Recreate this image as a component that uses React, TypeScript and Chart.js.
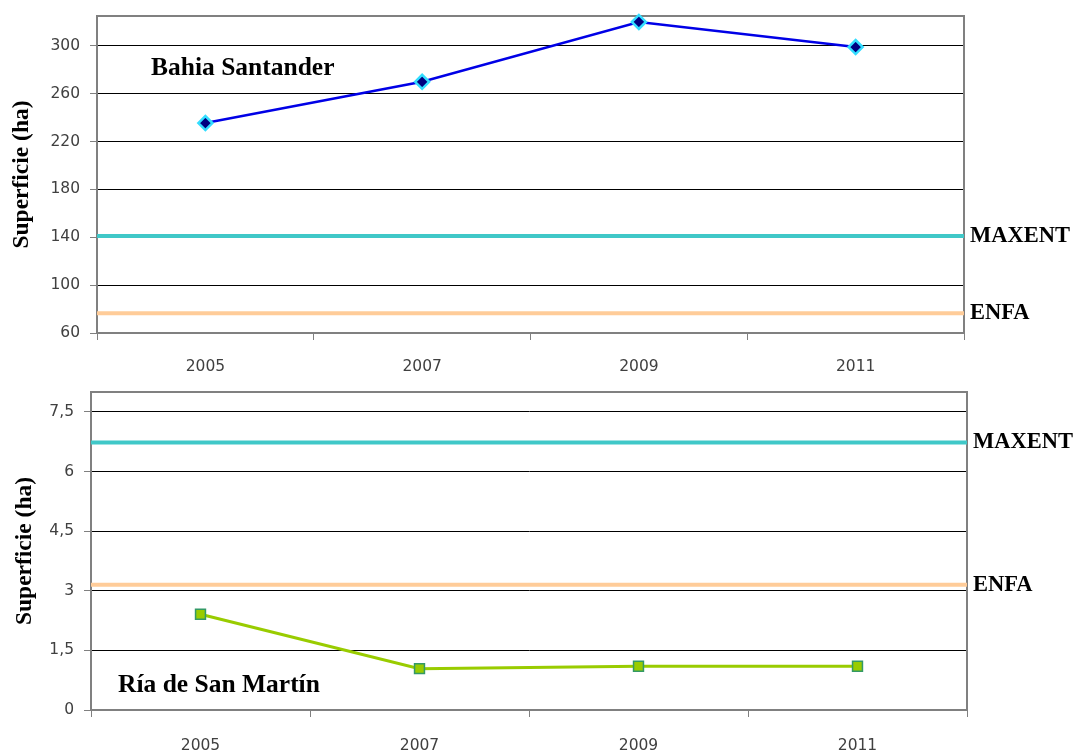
import React, { useEffect, useRef } from "react";
import { Chart, registerables } from "chart.js";

Chart.register(...registerables);

// ---- data ----
const years = ["2005", "2007", "2009", "2011"];

const bahiaTitle = "Bahia Santander";
const bahiaValues = [235.5, 270, 320, 299];
const bahiaMaxent = 141;
const bahiaEnfa = 76.5;
const bahiaTicks = [60, 100, 140, 180, 220, 260, 300];
const bahiaTickLabels = ["60", "100", "140", "180", "220", "260", "300"];
const bahiaMin = 60;
const bahiaMax = 325;

const rioTitle = "Ría de San Martín";
const rioValues = [2.41, 1.04, 1.1, 1.1];
const rioMaxent = 6.73;
const rioEnfa = 3.15;
const rioTicks = [0, 1.5, 3, 4.5, 6, 7.5];
const rioTickLabels = ["0", "1,5", "3", "4,5", "6", "7,5"];
const rioMin = 0;
const rioMax = 8;

const yTitle = "Superficie (ha)";
const refNames = ["MAXENT", "ENFA"];
const refColors = ["#40c8c8", "#ffcc99"];

const SERIF_BOLD = "bold 22.5px 'Liberation Serif', serif";

type PanelCfg = {
  values: number[];
  refs: number[];
  ticks: number[];
  tickLabels: string[];
  min: number;
  max: number;
  title: string;
  titleDx: number;
  titleDy: number;
  lineColor: string;
  pointStyle: string;
  pointRadius: number;
  pointBg: string;
  pointBorder: string;
  pointBorderWidth: number;
  lineWidth: number;
  height: number;
  padTop: number;
  padRight: number;
  yWidth: number;
  xHeight: number;
  xPad: number;
  titlePad: number;
};

const overlayPlugin = {
  id: "overlay",
  beforeDatasetsDraw(chart: any, _args: any, opts: any) {
    const { ctx, chartArea } = chart;
    const y = chart.scales.y;
    ctx.save();
    ctx.strokeStyle = "#808080";
    ctx.lineWidth = 2;
    ctx.beginPath();
    ctx.moveTo(chartArea.left, chartArea.top);
    ctx.lineTo(chartArea.right, chartArea.top);
    ctx.lineTo(chartArea.right, chartArea.bottom);
    ctx.stroke();
    opts.refs.forEach((v: number, i: number) => {
      const py = y.getPixelForValue(v);
      ctx.strokeStyle = refColors[i];
      ctx.lineWidth = 4;
      ctx.beginPath();
      ctx.moveTo(chartArea.left, py);
      ctx.lineTo(chartArea.right, py);
      ctx.stroke();
      ctx.fillStyle = "#000";
      ctx.font = SERIF_BOLD;
      ctx.textBaseline = "middle";
      ctx.textAlign = "left";
      ctx.fillText(refNames[i], chartArea.right + 6, py);
    });
    ctx.fillStyle = "#000";
    ctx.font = "bold 25.5px 'Liberation Serif', serif";
    ctx.textBaseline = "alphabetic";
    ctx.textAlign = "left";
    ctx.fillText(opts.title, chartArea.left + opts.titleDx, chartArea.top + opts.titleDy);
    ctx.restore();
  },
};

function Panel({ cfg }: { cfg: PanelCfg }) {
  const ref = useRef<HTMLCanvasElement>(null);
  useEffect(() => {
    if (!ref.current) return;
    const chart = new Chart(ref.current, {
      type: "line",
      data: {
        labels: years,
        datasets: [
          {
            data: cfg.values,
            borderColor: cfg.lineColor,
            borderWidth: cfg.lineWidth,
            pointStyle: cfg.pointStyle as any,
            pointRadius: cfg.pointRadius,
            pointBackgroundColor: cfg.pointBg,
            pointBorderColor: cfg.pointBorder,
            pointBorderWidth: cfg.pointBorderWidth,
            tension: 0,
            fill: false,
            clip: false as any,
          },
        ],
      },
      options: {
        responsive: false,
        animation: false,
        layout: { padding: { top: cfg.padTop, right: cfg.padRight, left: 0, bottom: 0 } },
        plugins: {
          legend: { display: false },
          tooltip: { enabled: false },
          overlay: { refs: cfg.refs, title: cfg.title, titleDx: cfg.titleDx, titleDy: cfg.titleDy },
        } as any,
        scales: {
          x: {
            type: "category",
            offset: true,
            grid: {
              offset: true,
              drawOnChartArea: false,
              drawTicks: true,
              tickLength: 7,
              color: "#808080",
              tickColor: "#808080",
            },
            border: { color: "#808080", width: 2 },
            ticks: {
              padding: cfg.xPad,
              color: "#404040",
              font: { family: "'DejaVu Sans', sans-serif", size: 15.5 },
              maxRotation: 0,
            },
            afterFit: (s: any) => {
              s.height = cfg.xHeight;
              s.paddingLeft = 0;
              s.paddingRight = 0;
            },
          },
          y: {
            type: "linear",
            min: cfg.min,
            max: cfg.max,
            afterBuildTicks: (s: any) => {
              s.ticks = cfg.ticks.map((v) => ({ value: v }));
            },
            grid: {
              color: "#000",
              lineWidth: 1,
              drawTicks: true,
              tickLength: 7,
              tickColor: "#808080",
            },
            border: { color: "#808080", width: 2 },
            ticks: {
              padding: 10,
              color: "#404040",
              font: { family: "'DejaVu Sans', sans-serif", size: 15.5 },
              callback: (v: any) => {
                const i = cfg.ticks.indexOf(Number(v));
                return i >= 0 ? cfg.tickLabels[i] : "";
              },
            },
            title: {
              display: true,
              text: yTitle,
              color: "#000",
              font: { family: "'Liberation Serif', serif", size: 23.5, weight: "bold" },
              padding: { top: cfg.titlePad, bottom: 0 },
            },
            afterFit: (s: any) => {
              s.width = cfg.yWidth;
              s.paddingTop = 0;
              s.paddingBottom = 0;
            },
          },
        },
      },
      plugins: [overlayPlugin],
    } as any);
    return () => chart.destroy();
  }, [cfg]);
  return (
    <canvas
      ref={ref}
      width={1075}
      height={cfg.height}
      style={{ display: "block", width: 1075, height: cfg.height }}
    />
  );
}

const topCfg: PanelCfg = {
  values: bahiaValues,
  refs: [bahiaMaxent, bahiaEnfa],
  ticks: bahiaTicks,
  tickLabels: bahiaTickLabels,
  min: bahiaMin,
  max: bahiaMax,
  title: bahiaTitle,
  titleDx: 54,
  titleDy: 59,
  lineColor: "#0000e6",
  pointStyle: "rectRot",
  pointRadius: 7,
  pointBg: "#000080",
  pointBorder: "#33ddff",
  pointBorderWidth: 2.5,
  lineWidth: 2.5,
  height: 378,
  padTop: 16,
  padRight: 111,
  yWidth: 97,
  xHeight: 45,
  xPad: 18,
  titlePad: 8,
};

const bottomCfg: PanelCfg = {
  values: rioValues,
  refs: [rioMaxent, rioEnfa],
  ticks: rioTicks,
  tickLabels: rioTickLabels,
  min: rioMin,
  max: rioMax,
  title: rioTitle,
  titleDx: 27,
  titleDy: 300,
  lineColor: "#99cc00",
  pointStyle: "rect",
  pointRadius: 7,
  pointBg: "#99cc00",
  pointBorder: "#339966",
  pointBorderWidth: 1.5,
  lineWidth: 3,
  height: 373,
  padTop: 14,
  padRight: 108,
  yWidth: 91,
  xHeight: 41,
  xPad: 20,
  titlePad: 11,
};

export default function App() {
  return (
    <div
      style={{
        position: "absolute",
        left: 0,
        top: 0,
        width: 1075,
        height: 751,
        background: "#fff",
        overflow: "hidden",
      }}
    >
      <Panel cfg={topCfg} />
      <Panel cfg={bottomCfg} />
    </div>
  );
}
